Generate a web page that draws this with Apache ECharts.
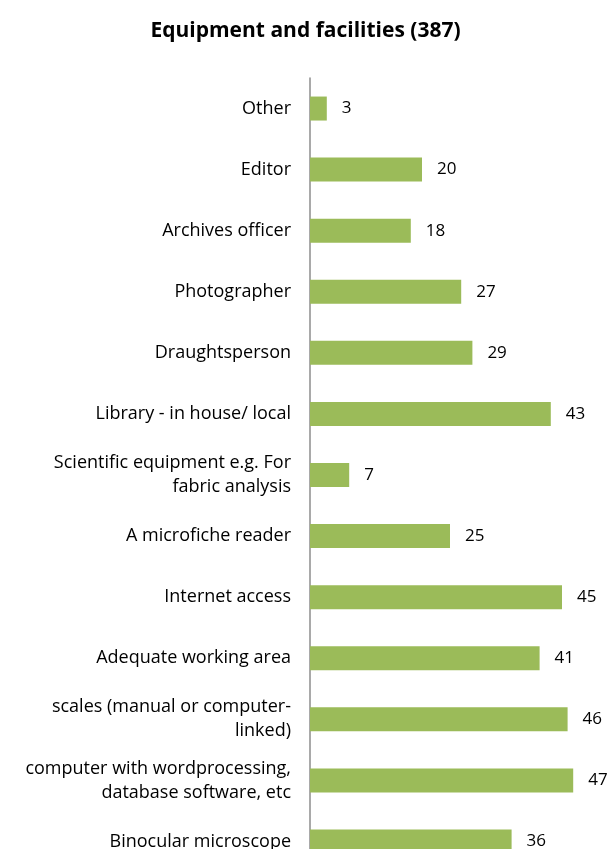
<!DOCTYPE html>
<html>
<head>
<meta charset="utf-8">
<script src="https://cdn.jsdelivr.net/npm/echarts@6/dist/echarts.min.js"></script>
<style>
  html, body { margin: 0; padding: 0; background: #fff; overflow: hidden; }
  /* the drawing is a little taller than the window, so the last row is cut off */
  #chart { width: 611px; height: 872px; }
</style>
</head>
<body>
<div id="chart"></div>
<script>
// Categories, listed top to bottom
const categories = [
  'Other',
  'Editor',
  'Archives officer',
  'Photographer',
  'Draughtsperson',
  'Library - in house/ local',
  'Scientific equipment e.g. For\nfabric analysis',
  'A microfiche reader',
  'Internet access',
  'Adequate working area',
  'scales (manual or computer-\nlinked)',
  'computer with wordprocessing,\ndatabase software, etc',
  'Binocular microscope'
];

// Number of responses per item
const counts = [3, 20, 18, 27, 29, 43, 7, 25, 45, 41, 46, 47, 36];

const chart = echarts.init(document.getElementById('chart'), null, { renderer: 'canvas' });

chart.setOption({
  backgroundColor: '#ffffff',
  animation: false,
  title: {
    text: 'Equipment and facilities (387)',
    left: 'center',
    top: 16,
    textStyle: {
      fontFamily: 'Open Sans',
      fontSize: 21,
      fontWeight: 'bold',
      color: '#000000'
    }
  },
  grid: {
    left: 310,
    top: 78,
    width: 280,
    bottom: 0,
    containLabel: false
  },
  xAxis: {
    type: 'value',
    min: 0,
    max: 50,
    show: false
  },
  yAxis: {
    type: 'category',
    data: categories,
    inverse: true,
    axisLine: { show: true, lineStyle: { color: '#8c8c8c', width: 1.5 } },
    axisTick: { show: false },
    splitLine: { show: false },
    axisLabel: {
      margin: 19,
      fontFamily: 'Open Sans',
      fontSize: 18,
      color: '#000000',
      lineHeight: 24,
      align: 'right'
    }
  },
  series: [{
    type: 'bar',
    data: counts,
    barWidth: 24,
    itemStyle: { color: '#9BBB59' },
    label: {
      show: true,
      position: 'right',
      distance: 15,
      fontFamily: 'Open Sans',
      fontSize: 17,
      color: '#000000'
    }
  }]
});
</script>
</body>
</html>
